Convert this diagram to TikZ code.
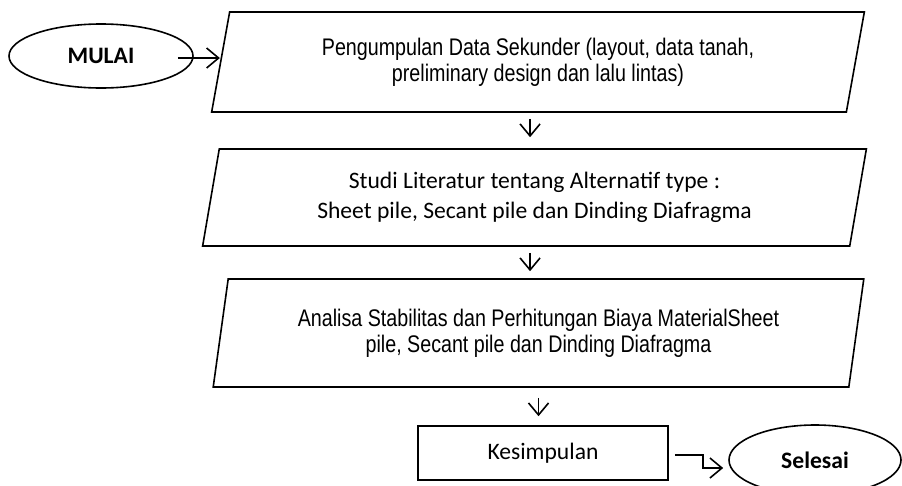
\documentclass[tikz,border=0pt]{standalone}
\usepackage{fontspec}
\setmainfont{Liberation Sans}
\newfontfamily\arialn[FakeStretch=0.82]{Liberation Sans}
\newfontfamily\calibri{Carlito}
\usepackage{tikz}
\usetikzlibrary{arrows.meta, shapes.geometric}

\begin{document}
\begin{tikzpicture}[x=1pt, y=-1pt,
    line width=1.6pt,
    flow/.style={-{Straight Barb[length=12pt, width=20pt]}},
    datbox/.style={draw, trapezium, trapezium stretches=true, align=center,
        inner sep=0pt, trapezium left angle=75.4, trapezium right angle=104.6},
    endnode/.style={draw, ellipse, inner sep=0pt, font=\calibri\bfseries\fontsize{23.6}{28}\selectfont},
    arialtxt/.style={font=\arialn\fontsize{24}{26}\selectfont},
    calibritxt/.style={font=\calibri\fontsize{23.6}{30}\selectfont}]
    \useasboundingbox (0,0) rectangle (902,485);
    % start and first data box
    \node[endnode, minimum width=184pt, minimum height=64pt] (mulai) at (101,56) {MULAI};
    \node[datbox, arialtxt, minimum width=654pt, minimum height=100pt] (b1) at (538,62)
        {Pengumpulan Data Sekunder (layout, data tanah,\\preliminary design dan lalu lintas)};
    \node[datbox, calibritxt, minimum width=665pt, minimum height=97pt,
        trapezium left angle=77.2, trapezium right angle=102.8] (b2) at (534.5,197.5)
        {Studi Literatur tentang Alternatif type :\\Sheet pile, Secant pile dan Dinding Diafragma};
    \node[datbox, arialtxt, minimum width=655pt, minimum height=108pt,
        trapezium left angle=76.5, trapezium right angle=103.5] (b3) at (538.5,333)
        {Analisa Stabilitas dan Perhitungan Biaya MaterialSheet\\pile, Secant pile dan Dinding Diafragma};
    \node[draw, calibritxt, minimum width=250pt, minimum height=54pt, inner sep=0pt] (kes) at (543,453)
        {Kesimpulan};
    \node[endnode, minimum width=172pt, minimum height=70pt] (sel) at (815,460) {Selesai};
    % connectors
    \draw[flow] ([xshift=-16pt,yshift=-2pt]mulai.east) -- ([yshift=-2pt]mulai.east -| b1.west);
    \draw[flow, shorten <=6pt, shorten >=11pt] ([xshift=-8pt]b1.south) -- ([xshift=-8pt]b1.south |- b2.north);
    \draw[flow, shorten <=6pt, shorten >=7pt] ([xshift=-4.5pt]b2.south) -- ([xshift=-4.5pt]b2.south |- b3.north);
    \draw[flow, shorten <=10pt, shorten >=9pt] (b3.south) -- (b3.south |- kes.north);
    \draw[flow] ([xshift=6pt,yshift=-2pt]kes.east) -- ++(28,0) |- ([xshift=-5pt,yshift=-8pt]sel.west);
\end{tikzpicture}
\end{document}
